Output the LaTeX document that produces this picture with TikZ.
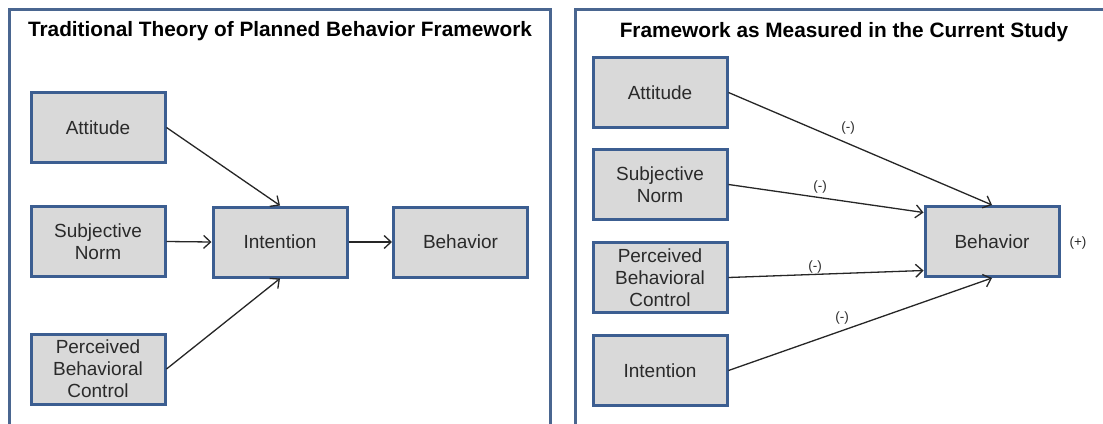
\documentclass[tikz,border=0pt]{standalone}
\usepackage{fontspec}
\setmainfont{Liberation Sans}
\usetikzlibrary{arrows.meta}
\definecolor{frameblue}{HTML}{4A6690}
\definecolor{boxblue}{HTML}{3C5E91}
\definecolor{boxfill}{HTML}{D9D9D9}
\definecolor{inktext}{HTML}{2A2A2A}
\begin{document}
\begin{tikzpicture}[x=1pt,y=-1pt,
  panel/.style={draw=frameblue,line width=2.4pt},
  heading/.style={font=\fontsize{20.8}{24}\selectfont\bfseries,text=black},
  factor/.style={draw=boxblue,line width=3pt,fill=boxfill,minimum width=134pt,
    minimum height=70pt,inner sep=0pt,align=center,text=inktext,
    font=\fontsize{19}{22}\selectfont},
  link/.style={draw=black!85,line width=1.3pt,-{Straight Barb[length=7pt,width=13pt,line width=1.3pt]}},
  sign/.style={font=\fontsize{13.5}{15}\selectfont,text=inktext,inner sep=1pt}]
\useasboundingbox (0,0) rectangle (1103,423);
\fill[white] (0,0) rectangle (1103,423);
% panel frames (they run past the lower edge)
\draw[panel] (9.5,440) -- (9.5,9.5) -- (550.5,9.5) -- (550.5,440);
\draw[panel] (575.5,440) -- (575.5,9.5) -- (1120,9.5);
\node[heading] (t1) at (280,31) {Traditional Theory of Planned Behavior Framework};
\node[heading] (t2) at (844,32) {Framework as Measured in the Current Study};

% traditional model
\node[factor] (a1) at (98,127.5) {Attitude};
\node[factor] (s1) at (98,241.5) {Subjective\\Norm};
\node[factor] (p1) at (98,369) {Perceived\\Behavioral\\Control};
\node[factor] (i1) at (280,242) {Intention};
\node[factor] (b1) at (460.5,242) {Behavior};
\draw[link] (a1.east) -- (i1.north);
\draw[link] (s1.east) -- (i1.west);
\draw[link] (p1.east) -- (i1.south);
\draw[link] (i1.east) -- (b1.west);

% model as measured
\node[factor] (a2) at (660,92.5) {Attitude};
\node[factor] (s2) at (660,184.5) {Subjective\\Norm};
\node[factor] (p2) at (660,277.5) {Perceived\\Behavioral\\Control};
\node[factor] (i2) at (660,370.5) {Intention};
\node[factor] (b2) at (992,241.5) {Behavior};
\draw[link] (a2.east) -- (b2.north);
\draw[link] (s2.east) -- ([yshift=29pt]b2.west);
\draw[link] (p2.east) -- ([yshift=-29pt]b2.west);
\draw[link] (i2.east) -- (b2.south);
\node[sign] (m1) at (848,128) {(-)};
\node[sign] (m2) at (820,187) {(-)};
\node[sign] (m3) at (815,267) {(-)};
\node[sign] (m4) at (842,318) {(-)};
\node[sign] (pl) at (1078,243) {(+)};
\end{tikzpicture}
\end{document}
